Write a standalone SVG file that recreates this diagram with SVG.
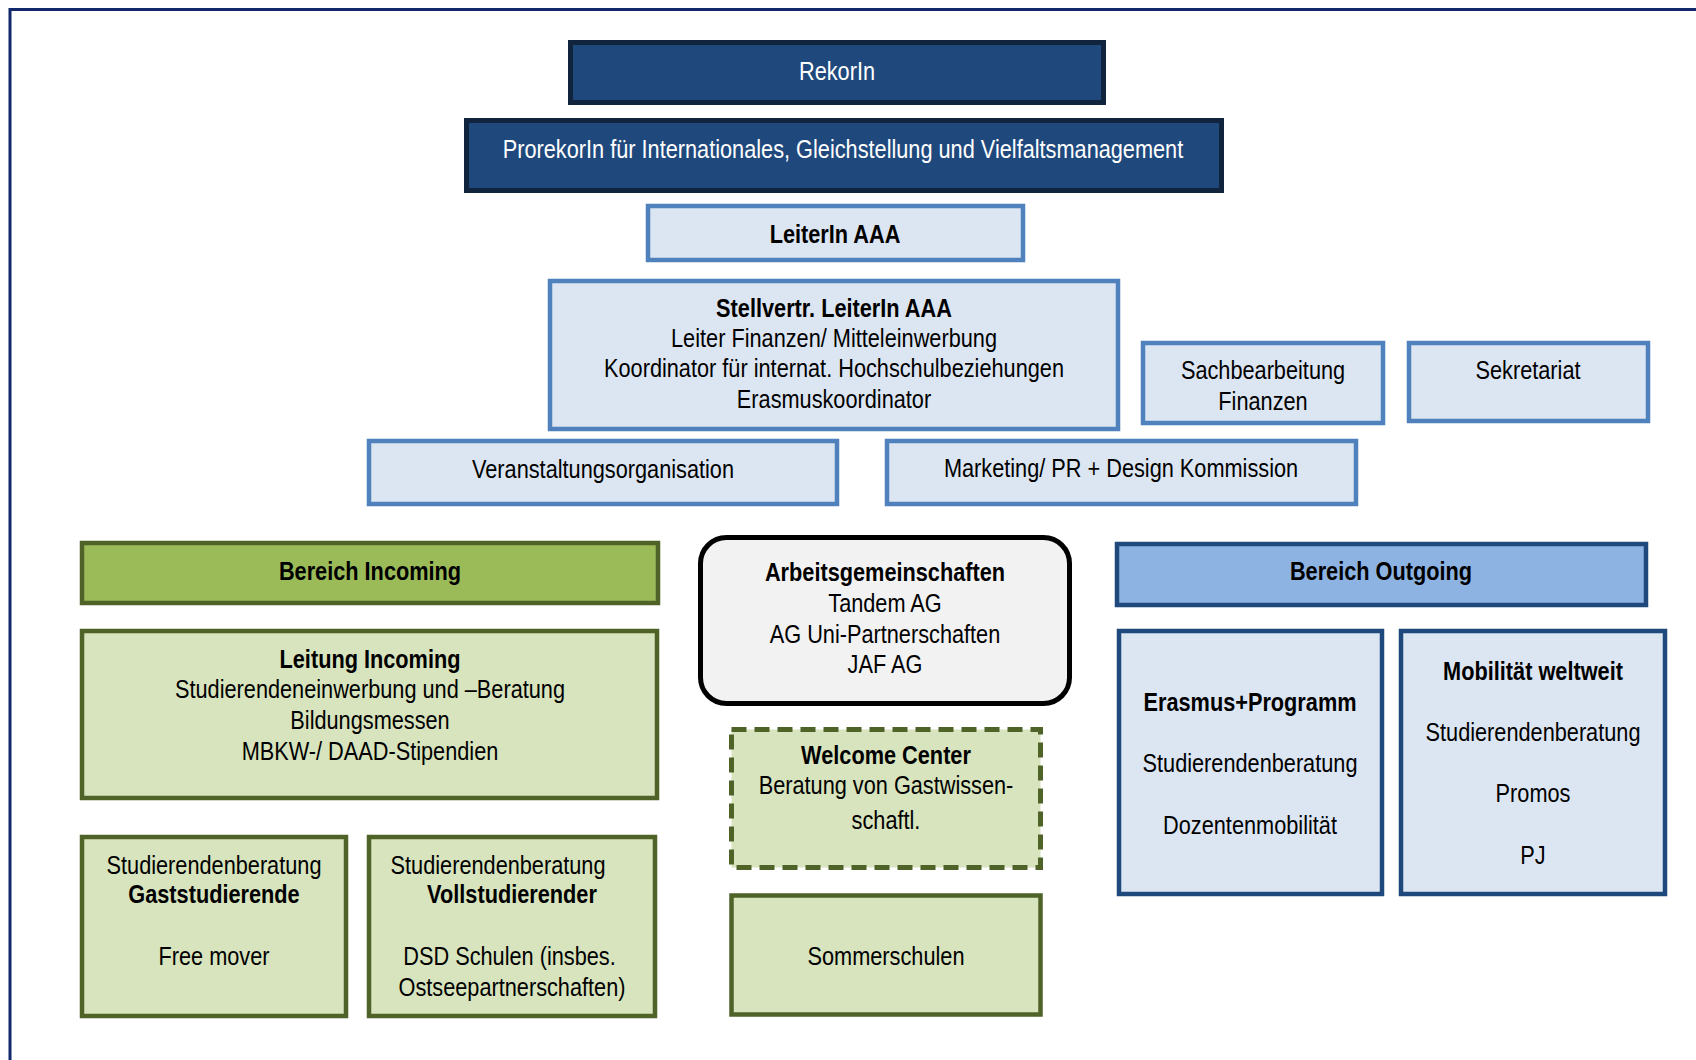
<svg xmlns="http://www.w3.org/2000/svg" width="1696" height="1060" viewBox="0 0 1696 1060">
<style>
  text { font-family: "Liberation Sans", Arial, sans-serif; font-size: 26.5px; text-anchor: middle; fill: #000; }
  .b { font-weight: bold; }
  .w { fill: #fff; }
  .dark { fill: #1F497D; stroke: #10243E; stroke-width: 5; }
  .lb { fill: #DCE6F2; stroke: #4F81BD; stroke-width: 4.5; }
  .ob { fill: #8DB3E2; stroke: #1F497D; stroke-width: 4.5; }
  .od { fill: #DCE6F2; stroke: #1F497D; stroke-width: 4.5; }
  .gh { fill: #9BBB59; stroke: #4F6228; stroke-width: 4.5; }
  .gl { fill: #D7E4BD; stroke: #4F6228; stroke-width: 4.5; }
  .gd { fill: #D7E4BD; stroke: #4F6228; stroke-width: 5; stroke-dasharray: 15 8; }
  .ag { fill: #F2F2F2; stroke: #000; stroke-width: 5; }
</style>
<rect x="0" y="0" width="1696" height="1060" fill="#fff"/>
<rect x="10" y="9.5" width="1720" height="1100" fill="none" stroke="#11296B" stroke-width="3"/>
<g id="connectors"/>

<g id="rektor">
  <rect class="dark" x="570.5" y="42.5" width="533" height="60"/>
  <g transform="translate(837 0) scale(0.82 1)"><text class="w" x="0" y="80">RekorIn</text></g>
</g>
<g id="prorektor">
  <rect class="dark" x="466.5" y="120.5" width="755" height="70"/>
  <g transform="translate(843 0) scale(0.82 1)"><text class="w" x="0" y="158">ProrekorIn für Internationales, Gleichstellung und Vielfaltsmanagement</text></g>
</g>
<g id="leiter">
  <rect class="lb" x="648" y="206" width="375" height="54"/>
  <g transform="translate(835 0) scale(0.82 1)"><text class="b" x="0" y="243">LeiterIn AAA</text></g>
</g>
<g id="stellvertr">
  <rect class="lb" x="550" y="281" width="568" height="148"/>
  <g transform="translate(834 0) scale(0.82 1)">
    <text class="b" x="0" y="317">Stellvertr. LeiterIn AAA</text>
    <text x="0" y="347">Leiter Finanzen/ Mitteleinwerbung</text>
    <text x="0" y="377">Koordinator für internat. Hochschulbeziehungen</text>
    <text x="0" y="408">Erasmuskoordinator</text>
  </g>
</g>
<g id="sachbearbeitung">
  <rect class="lb" x="1143" y="343" width="240" height="80"/>
  <g transform="translate(1263 0) scale(0.82 1)">
    <text x="0" y="379">Sachbearbeitung</text>
    <text x="0" y="410">Finanzen</text>
  </g>
</g>
<g id="sekretariat">
  <rect class="lb" x="1409" y="343" width="239" height="78"/>
  <g transform="translate(1528 0) scale(0.82 1)"><text x="0" y="379">Sekretariat</text></g>
</g>
<g id="veranstaltung">
  <rect class="lb" x="369" y="441" width="468" height="63"/>
  <g transform="translate(603 0) scale(0.82 1)"><text x="0" y="478">Veranstaltungsorganisation</text></g>
</g>
<g id="marketing">
  <rect class="lb" x="887" y="441" width="469" height="63"/>
  <g transform="translate(1121 0) scale(0.82 1)"><text x="0" y="477">Marketing/ PR + Design Kommission</text></g>
</g>

<g id="bereich-incoming">
  <rect class="gh" x="82" y="543" width="576" height="60"/>
  <g transform="translate(370 0) scale(0.82 1)"><text class="b" x="0" y="580">Bereich Incoming</text></g>
</g>
<g id="leitung-incoming">
  <rect class="gl" x="82" y="631" width="575" height="167"/>
  <g transform="translate(370 0) scale(0.82 1)">
    <text class="b" x="0" y="668">Leitung Incoming</text>
    <text x="0" y="698">Studierendeneinwerbung und –Beratung</text>
    <text x="0" y="729">Bildungsmessen</text>
    <text x="0" y="760">MBKW-/ DAAD-Stipendien</text>
  </g>
</g>
<g id="gaststudierende">
  <rect class="gl" x="82" y="837" width="264" height="179"/>
  <g transform="translate(214 0) scale(0.82 1)">
    <text x="0" y="874">Studierendenberatung</text>
    <text class="b" x="0" y="903">Gaststudierende</text>
    <text x="0" y="965">Free mover</text>
  </g>
</g>
<g id="vollstudierender">
  <rect class="gl" x="369" y="837" width="286" height="179"/>
  <g transform="translate(512 0) scale(0.82 1)">
    <text x="-17" y="874">Studierendenberatung</text>
    <text class="b" x="0" y="903">Vollstudierender</text>
    <text x="-3" y="965">DSD Schulen (insbes.</text>
    <text x="0" y="996">Ostseepartnerschaften)</text>
  </g>
</g>

<g id="arbeitsgemeinschaften">
  <rect class="ag" x="700.5" y="537.5" width="369" height="166" rx="26" ry="26"/>
  <g transform="translate(885 0) scale(0.82 1)">
    <text class="b" x="0" y="581">Arbeitsgemeinschaften</text>
    <text x="0" y="612">Tandem AG</text>
    <text x="0" y="643">AG Uni-Partnerschaften</text>
    <text x="0" y="673">JAF AG</text>
  </g>
</g>
<g id="welcome-center">
  <rect class="gd" x="731.5" y="729.5" width="309" height="138"/>
  <g transform="translate(886 0) scale(0.82 1)">
    <text class="b" x="0" y="764">Welcome Center</text>
    <text x="0" y="794">Beratung von Gastwissen-</text>
    <text x="0" y="829">schaftl.</text>
  </g>
</g>
<g id="sommerschulen">
  <rect class="gl" x="731.5" y="895.5" width="309" height="119"/>
  <g transform="translate(886 0) scale(0.82 1)"><text x="0" y="965">Sommerschulen</text></g>
</g>

<g id="bereich-outgoing">
  <rect class="ob" x="1117" y="544" width="529" height="61"/>
  <g transform="translate(1381 0) scale(0.82 1)"><text class="b" x="0" y="580">Bereich Outgoing</text></g>
</g>
<g id="erasmus">
  <rect class="od" x="1119" y="631" width="263" height="263"/>
  <g transform="translate(1250 0) scale(0.82 1)">
    <text class="b" x="0" y="711">Erasmus+Programm</text>
    <text x="0" y="772">Studierendenberatung</text>
    <text x="0" y="834">Dozentenmobilität</text>
  </g>
</g>
<g id="mobilitaet">
  <rect class="od" x="1401" y="631" width="264" height="263"/>
  <g transform="translate(1533 0) scale(0.82 1)">
    <text class="b" x="0" y="680">Mobilität weltweit</text>
    <text x="0" y="741">Studierendenberatung</text>
    <text x="0" y="802">Promos</text>
    <text x="0" y="864">PJ</text>
  </g>
</g>
</svg>
